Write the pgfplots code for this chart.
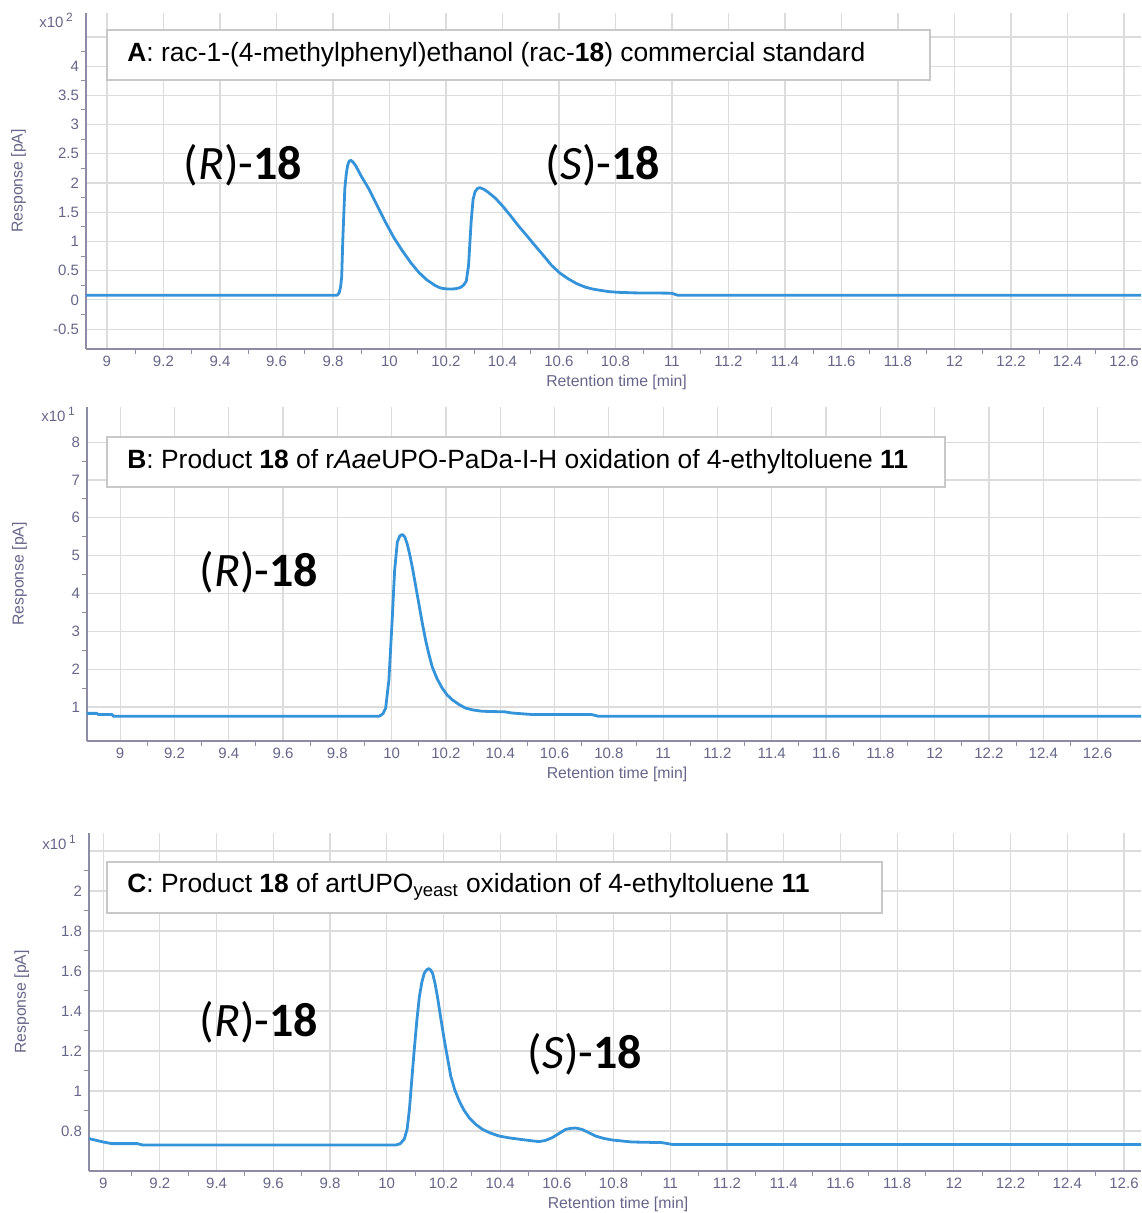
\documentclass[border=0pt]{standalone}
\usepackage{fontspec}
\setmainfont{Liberation Sans}
\newfontfamily\calibri{Carlito}
\usepackage{pgfplots}
\pgfplotsset{compat=1.18}
\definecolor{tracec}{HTML}{3593DA}
\definecolor{gridc}{HTML}{DCDCDC}
\definecolor{axc}{HTML}{8C8CA4}
\definecolor{tickc}{HTML}{66668A}
\definecolor{boxc}{HTML}{C8C8C8}

\pgfplotsset{chrom/.style={
  scale only axis, anchor=south west,
  axis x line*=bottom, axis y line*=left,
  axis line style={axc, line width=0.8pt},
  grid=major, grid style={gridc, line width=0.6pt},
  tick align=outside, major tick length=0pt, minor tick length=2.5pt,
  minor tick num=1, tick style={axc, line width=0.5pt},
  xtick={9,9.2,9.4,9.6,9.8,10,10.2,10.4,10.6,10.8,11,11.2,11.4,11.6,11.8,12,12.2,12.4,12.6},
  xticklabels={9,9.2,9.4,9.6,9.8,10,10.2,10.4,10.6,10.8,11,11.2,11.4,11.6,11.8,12,12.2,12.4,12.6},
  ticklabel style={font=\fontsize{7.5}{9}\selectfont, text=tickc},
  xlabel={Retention time [min]}, ylabel={Response [pA]},
  label style={font=\fontsize{7.9}{9}\selectfont, text=tickc},
  xlabel style={at={(axis description cs:0.5,0)}, anchor=center, yshift=-16.5pt, xshift=1.5pt},
  ylabel style={at={(axis description cs:-0.064,0.5)}, anchor=center},
}, tr/.style={tracec, line width=1.4pt, line join=round}}
\newcommand{\peak}[1]{{\calibri\fontsize{24}{26}\selectfont(\textit{#1})-\textbf{18}}}

\begin{document}
\begin{tikzpicture}
\useasboundingbox (0,0) rectangle (570.5pt,606.5pt);

% A
\begin{axis}[chrom, at={(43pt,432pt)}, width=527.5pt, height=168pt,
  xmin=8.926, xmax=12.66, ymin=-0.84, ymax=4.91,
  ytick={-0.5,0,0.5,1,1.5,2,2.5,3,3.5,4,4.5},
  yticklabels={-0.5,0,0.5,1,1.5,2,2.5,3,3.5,4,}]
\addplot[tr] coordinates {(8.926,0.08) (9.815,0.08) (9.822,0.12) (9.827,0.22) (9.831,0.4) (9.835,1.04) (9.842,1.90)
 (9.847,2.15) (9.852,2.30) (9.857,2.37) (9.863,2.39) (9.871,2.36) (9.880,2.30) (9.90,2.12) (9.927,1.90)
 (9.955,1.63) (9.986,1.33) (10.015,1.07) (10.045,0.845) (10.075,0.64) (10.104,0.47) (10.133,0.34)
 (10.162,0.245) (10.18,0.205) (10.198,0.19) (10.215,0.185) (10.233,0.19) (10.25,0.21) (10.262,0.25)
 (10.272,0.32) (10.28,0.59) (10.289,1.33) (10.296,1.72) (10.303,1.85) (10.312,1.91) (10.321,1.92)
 (10.335,1.89) (10.35,1.84) (10.375,1.74) (10.398,1.62) (10.427,1.45) (10.456,1.27) (10.486,1.10)
 (10.515,0.93) (10.545,0.76) (10.574,0.59) (10.603,0.46) (10.633,0.36) (10.662,0.28) (10.692,0.22)
 (10.72,0.185) (10.751,0.16) (10.78,0.14) (10.809,0.13) (10.868,0.12) (10.998,0.115) (11.02,0.08) (12.66,0.08)};
\end{axis}

% B
\begin{axis}[chrom, at={(43.5pt,236pt)}, width=527pt, height=167pt,
  xmin=8.878, xmax=12.76, ymin=0.10, ymax=8.93,
  ytick={1,2,3,4,5,6,7,8}, yticklabels={1,2,3,4,5,6,7,8}]
\addplot[tr] coordinates {(8.878,0.83) (8.914,0.83) (8.92,0.80) (8.97,0.80) (8.975,0.755) (9.954,0.755)
 (9.968,0.82) (9.978,0.97) (9.99,1.72) (10.002,3.30) (10.011,4.61) (10.021,5.36) (10.03,5.52) (10.039,5.56)
 (10.048,5.50) (10.057,5.32) (10.066,5.05) (10.076,4.70) (10.088,4.22) (10.10,3.74) (10.112,3.25)
 (10.125,2.77) (10.137,2.40) (10.149,2.07) (10.167,1.75) (10.186,1.50) (10.204,1.32) (10.223,1.19)
 (10.247,1.07) (10.272,0.97) (10.30,0.92) (10.333,0.886) (10.418,0.87) (10.443,0.84) (10.516,0.80)
 (10.736,0.80) (10.761,0.755) (12.76,0.755)};
\end{axis}

% C
\begin{axis}[chrom, at={(44.5pt,21pt)}, width=526pt, height=169pt,
  xmin=8.95, xmax=12.66, ymin=0.6, ymax=2.29,
  ytick={0.8,1,1.2,1.4,1.6,1.8,2,2.2}, yticklabels={0.8,1,1.2,1.4,1.6,1.8,2,}]
\addplot[tr] coordinates {(8.95,0.762) (9.0,0.745) (9.03,0.737) (9.12,0.737) (9.14,0.73) (10.033,0.73)
 (10.048,0.737) (10.062,0.76) (10.072,0.81) (10.08,0.908) (10.088,1.05) (10.097,1.206) (10.106,1.35)
 (10.115,1.47) (10.124,1.545) (10.132,1.587) (10.14,1.605) (10.148,1.612) (10.155,1.605) (10.162,1.587)
 (10.17,1.54) (10.179,1.47) (10.191,1.36) (10.203,1.255) (10.215,1.16) (10.226,1.073) (10.24,1.005)
 (10.256,0.949) (10.272,0.905) (10.291,0.866) (10.313,0.834) (10.338,0.808) (10.365,0.79) (10.396,0.775)
 (10.43,0.766) (10.467,0.759) (10.5,0.753) (10.537,0.747) (10.56,0.753) (10.584,0.767) (10.608,0.788)
 (10.631,0.808) (10.648,0.813) (10.666,0.815) (10.689,0.808) (10.712,0.792) (10.736,0.775) (10.765,0.763)
 (10.795,0.755) (10.865,0.745) (10.97,0.742) (11.006,0.733) (12.66,0.733)};
\end{axis}

% multipliers
\node[anchor=base west, text=tickc, font=\fontsize{7.5}{9}\selectfont, inner sep=0pt] at (19.5pt,592.5pt) {x10\,\raisebox{3pt}{\fontsize{6}{6}\selectfont 2}};
\node[anchor=base west, text=tickc, font=\fontsize{7.5}{9}\selectfont, inner sep=0pt] at (20.5pt,395.7pt) {x10\,\raisebox{3pt}{\fontsize{6}{6}\selectfont 1}};
\node[anchor=base west, text=tickc, font=\fontsize{7.5}{9}\selectfont, inner sep=0pt] at (21pt,181.5pt) {x10\,\raisebox{3pt}{\fontsize{6}{6}\selectfont 1}};

% title boxes
\draw[boxc, line width=1pt, fill=white] (53.5pt,566.5pt) rectangle (465pt,591.5pt);
\node[anchor=west, inner sep=0pt, font=\fontsize{13.2}{15}\selectfont] at (63.5pt,579pt)
  {\textbf{A}: rac-1-(4-methylphenyl)ethanol (rac-\textbf{18}) commercial standard};
\draw[boxc, line width=1pt, fill=white] (53.5pt,363pt) rectangle (472.5pt,388pt);
\node[anchor=west, inner sep=0pt, font=\fontsize{13.2}{15}\selectfont] at (63.5pt,375.5pt)
  {\textbf{B}: Product \textbf{18} of r\textit{Aae}UPO-PaDa-I-H oxidation of 4-ethyltoluene \textbf{11}};
\draw[boxc, line width=1pt, fill=white] (53.5pt,150pt) rectangle (441pt,175.5pt);
\node[anchor=west, inner sep=0pt, font=\fontsize{13.2}{15}\selectfont] at (63.5pt,163pt)
  {\textbf{C}: Product \textbf{18} of artUPO\textsubscript{yeast} oxidation of 4-ethyltoluene \textbf{11}};

% peak labels
\node at (121.5pt,524pt) {\peak{R}};
\node at (301.5pt,524pt) {\peak{S}};
\node at (129.5pt,320.5pt) {\peak{R}};
\node at (129.5pt,95.5pt) {\peak{R}};
\node at (292.5pt,79.5pt) {\peak{S}};
\end{tikzpicture}
\end{document}
